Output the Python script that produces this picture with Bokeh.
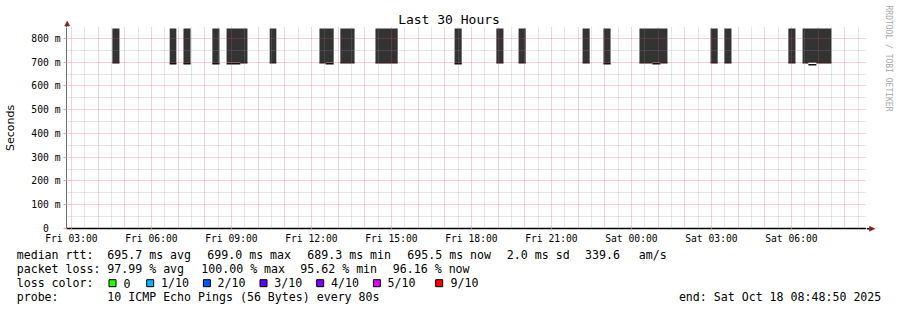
import pandas as pd
from math import pi
from bokeh.plotting import figure
from bokeh.layouts import column, row
from bokeh.models import Range1d, FixedTicker, ColumnDataSource
from bokeh.core.properties import value
from bokeh.embed import file_html
from bokeh.resources import INLINE

# ---------------- data ----------------
chart_title = "Last 30 Hours"
y_axis_title = "Seconds"
watermark = "RRDTOOL / TOBI OETIKER"
graph_start = "2025-10-17 02:48:50"
graph_end = "2025-10-18 08:48:50"
smoke_top_ms = 842.0

step_start = [
    "2025-10-17 04:32", "2025-10-17 06:41", "2025-10-17 07:12", "2025-10-17 08:17",
    "2025-10-17 08:49", "2025-10-17 09:20", "2025-10-17 10:26", "2025-10-17 12:18",
    "2025-10-17 12:32", "2025-10-17 13:05", "2025-10-17 14:24", "2025-10-17 17:22",
    "2025-10-17 18:56", "2025-10-17 19:46", "2025-10-17 22:10", "2025-10-17 22:57",
    "2025-10-18 00:18", "2025-10-18 00:47", "2025-10-18 01:05", "2025-10-18 02:58",
    "2025-10-18 03:29", "2025-10-18 05:53", "2025-10-18 06:25", "2025-10-18 06:38",
    "2025-10-18 06:56",
]
step_end = [
    "2025-10-17 04:48", "2025-10-17 06:56", "2025-10-17 07:28", "2025-10-17 08:33",
    "2025-10-17 09:20", "2025-10-17 09:36", "2025-10-17 10:41", "2025-10-17 12:32",
    "2025-10-17 12:50", "2025-10-17 13:37", "2025-10-17 15:14", "2025-10-17 17:38",
    "2025-10-17 19:12", "2025-10-17 20:02", "2025-10-17 22:26", "2025-10-17 23:13",
    "2025-10-18 00:47", "2025-10-18 01:05", "2025-10-18 01:21", "2025-10-18 03:14",
    "2025-10-18 03:45", "2025-10-18 06:09", "2025-10-18 06:38", "2025-10-18 06:56",
    "2025-10-18 07:30",
]
median_ms = [
    698, 694, 694, 694,
    694, 698, 698, 698,
    694, 698, 698, 694,
    698, 698, 698, 694,
    698, 694, 698, 698,
    698, 698, 698, 689.5,
    698,
]

y_tick_values = [0, 100, 200, 300, 400, 500, 600, 700, 800]
y_tick_labels = ["0\u00a0\u00a0", "100 m", "200 m", "300 m", "400 m",
                 "500 m", "600 m", "700 m", "800 m"]
y_minor_values = [50, 150, 250, 350, 450, 550, 650, 750]

x_tick_times = ["2025-10-17 03:00", "2025-10-17 06:00", "2025-10-17 09:00",
                "2025-10-17 12:00", "2025-10-17 15:00", "2025-10-17 18:00",
                "2025-10-17 21:00", "2025-10-18 00:00", "2025-10-18 03:00",
                "2025-10-18 06:00"]
x_tick_labels = ["Fri 03:00", "Fri 06:00", "Fri 09:00", "Fri 12:00", "Fri 15:00",
                 "Fri 18:00", "Fri 21:00", "Sat 00:00", "Sat 03:00", "Sat 06:00"]

rtt_stat_names = ["avg", "max", "min", "now"]
rtt_stat_values = [695.7, 699.0, 689.3, 695.5]
rtt_sd = 2.0
rtt_am_s = 339.6
loss_stat_names = ["avg", "max", "min", "now"]
loss_stat_values = [97.99, 100.00, 95.62, 96.16]
loss_color_labels = ["0", "1/10", "2/10", "3/10", "4/10", "5/10", "9/10"]
loss_color_values = ["#26ff00", "#00b8ff", "#0059ff", "#5e00ff", "#7e00ff", "#dd00ff", "#ff0000"]
probe_text = "10 ICMP Echo Pings (56 Bytes) every 80s"
end_text = "end: Sat Oct 18 08:48:50 2025"

# ---------------- layout / style ----------------
CANVAS_W, CANVAS_H = 897, 310
FRAME_L, FRAME_R, FRAME_T, FRAME_B = 66, 866, 27, 228
SMOKE_TOP_PX = 28
MAIN_BOTTOM = 248
MONO = "DejaVu Sans Mono"
LEG_SIZE = "11.6px"
BAR_COLOR = "#333333"
LINE_COLOR = "#111111"
ARROW_COLOR = "#7f1f1f"
AXIS_GRAY = "#707070"


def ms(t):
    return pd.Timestamp(t).value / 1e6


y_top = smoke_top_ms * (FRAME_B - FRAME_T) / (FRAME_B - SMOKE_TOP_PX)

# merge contiguous steps into smoke blocks
starts = pd.to_datetime(step_start)
ends = pd.to_datetime(step_end)
blocks = []
for s, e, m in zip(starts, ends, median_ms):
    if blocks and blocks[-1][1] == s:
        blocks[-1][1] = e
        blocks[-1][2] = max(blocks[-1][2], m)
    else:
        blocks.append([s, e, m])
block_src = ColumnDataSource(dict(
    left=[b[0] for b in blocks], right=[b[1] for b in blocks],
    bottom=[b[2] for b in blocks], top=[smoke_top_ms] * len(blocks)))
step_src = ColumnDataSource(dict(x0=starts, x1=ends, y=median_ms))


def pixel_fig(w, h, x0, y0):
    f = figure(width=w, height=h, x_range=Range1d(x0, x0 + w), y_range=Range1d(y0 + h, y0),
               min_border=0, toolbar_location=None, tools="", output_backend="svg",
               x_axis_location=None, y_axis_location=None, outline_line_color=None,
               background_fill_color="white", border_fill_color="white")
    f.grid.visible = False
    return f


# ---------------- main plot ----------------
p = figure(width=FRAME_R, height=MAIN_BOTTOM - FRAME_T, x_axis_type="datetime",
           x_range=Range1d(ms(graph_start), ms(graph_end)), y_range=Range1d(0, y_top),
           min_border_left=FRAME_L, min_border_right=0, min_border_top=0,
           min_border_bottom=MAIN_BOTTOM - FRAME_B,
           toolbar_location=None, tools="", output_backend="svg", outline_line_color=None,
           background_fill_color="white", border_fill_color="white")

p.quad(left="left", right="right", bottom="bottom", top="top", source=block_src,
       fill_color=BAR_COLOR, line_color=None)
p.segment(x0="x0", x1="x1", y0="y", y1="y", source=step_src,
          line_color=LINE_COLOR, line_width=1.5)

# axes
p.yaxis.ticker = FixedTicker(ticks=y_tick_values, minor_ticks=y_minor_values)
p.yaxis.major_label_overrides = dict(zip(y_tick_values, y_tick_labels))
p.yaxis.major_label_text_font = MONO
p.yaxis.major_label_text_font_size = "9.7px"
p.yaxis.major_label_text_color = "black"
p.yaxis.major_label_standoff = 3
p.yaxis.major_tick_out = 3
p.yaxis.major_tick_in = 0
p.yaxis.major_tick_line_color = "#e8a0a0"
p.yaxis.minor_tick_out = 0
p.yaxis.minor_tick_in = 0
p.yaxis.axis_line_color = AXIS_GRAY
p.yaxis.axis_label = y_axis_title
p.yaxis.axis_label_text_font = "DejaVu Sans"
p.yaxis.axis_label_text_font_size = "11px"
p.yaxis.axis_label_text_font_style = "normal"
p.yaxis.axis_label_text_color = "black"
p.yaxis.axis_label_standoff = 11

x_tick_ms = [int(ms(t)) for t in x_tick_times]
p.xaxis.ticker = FixedTicker(ticks=x_tick_ms)
p.xaxis.major_label_overrides = dict(zip(x_tick_ms, x_tick_labels))
p.xaxis.major_label_text_font = MONO
p.xaxis.major_label_text_font_size = "9.7px"
p.xaxis.major_label_text_color = "black"
p.xaxis.major_label_standoff = 2
p.xaxis.major_tick_out = 2
p.xaxis.major_tick_in = 0
p.xaxis.major_tick_line_color = "#e8a0a0"
p.xaxis.minor_tick_out = 0
p.xaxis.minor_tick_in = 0
p.xaxis.axis_line_color = "black"
p.xaxis.axis_line_width = 1.5

# grid drawn on top of the smoke, as rrdtool does
hour_grid = [ms(t) for t in pd.date_range("2025-10-17 03:00", "2025-10-18 08:00", freq="h")]
half_grid = [ms(t) for t in pd.date_range("2025-10-17 03:30", "2025-10-18 08:30", freq="h")]
p.xgrid.ticker = FixedTicker(ticks=hour_grid, minor_ticks=half_grid)
for g in (p.xgrid[0], p.ygrid[0]):
    g.level = "overlay"
    g.grid_line_color = "#de4f4f"
    g.grid_line_alpha = 0.5
    g.grid_line_dash = "1 1"
    g.minor_grid_line_color = "#8f8f8f"
    g.minor_grid_line_alpha = 0.45
    g.minor_grid_line_dash = "1 1"

# ---------------- header (title, y arrow) ----------------
head = pixel_fig(FRAME_R, FRAME_T, 0, 0)
head.text(x=[CANVAS_W / 2], y=[19], text=[chart_title], text_font=value(MONO),
          text_font_size="13px", text_align="center", text_baseline="middle",
          text_color="black")
head.segment(x0=[FRAME_L], x1=[FRAME_L], y0=[24], y1=[FRAME_T], line_color=AXIS_GRAY, line_width=1)
head.patch(x=[64.2, 69.2, 66.7], y=[25.6, 25.6, 20.6], fill_color=ARROW_COLOR,
           line_color=ARROW_COLOR, line_width=0.5)

# ---------------- right strip (watermark, x arrow) ----------------
side = pixel_fig(CANVAS_W - FRAME_R, MAIN_BOTTOM, FRAME_R, 0)
side.text(x=[887.5], y=[5], text=[watermark], text_font=value(MONO),
          text_font_size="8px", text_align="left", text_baseline="middle",
          text_color="#a8a8a8", angle=-pi / 2)
side.segment(x0=[FRAME_R], x1=[870], y0=[228.3], y1=[228.3], line_color="black", line_width=1.5)
side.patch(x=[869.0, 869.0, 874.4], y=[225.8, 230.8, 228.3], fill_color=ARROW_COLOR,
           line_color=ARROW_COLOR, line_width=0.5)

# ---------------- legend ----------------
leg = pixel_fig(CANVAS_W, CANVAS_H - MAIN_BOTTOM, 0, MAIN_BOTTOM)
row_mid = [254.3, 268.3, 282.7, 296.2]
label_x = 16.2


def leg_text(x, y, s, align="left"):
    leg.text(x=[x], y=[y], text=[s], text_font=value(MONO), text_font_size=LEG_SIZE,
             text_align=align, text_baseline="middle", text_color="black")


# row 1: median rtt
leg_text(label_x, row_mid[0], "median rtt:")
rtt_x = [106.8, 206.8, 306.8, 406.8]
for x, v, n in zip(rtt_x, rtt_stat_values, rtt_stat_names):
    leg_text(x, row_mid[0], f"{v:.1f} ms {n}")
leg_text(506.3, row_mid[0], f"{rtt_sd:.1f} ms sd")
leg_text(584.5, row_mid[0], f"{rtt_am_s:.1f}")
leg_text(638.3, row_mid[0], "am/s")

# row 2: packet loss
leg_text(label_x, row_mid[1], "packet loss:")
loss_x = [106.8, 200.8, 299.8, 392.3]
for x, v, n in zip(loss_x, loss_stat_values, loss_stat_names):
    leg_text(x, row_mid[1], f"{v:.2f} % {n}")

# row 3: loss colours
leg_text(label_x, row_mid[2], "loss color:")
box_left = [108.0, 145.7, 202.4, 259.0, 315.7, 372.4, 434.7]
box_text_x = [123.0, 160.5, 217.0, 273.7, 330.5, 387.0, 450.0]
leg.quad(left=[b + 0.5 for b in box_left], right=[b + 7.5 for b in box_left],
         top=[279.2] * len(box_left), bottom=[286.2] * len(box_left),
         fill_color=loss_color_values, line_color="black", line_width=1)
for x, s in zip(box_text_x, loss_color_labels):
    leg_text(x, row_mid[2], s)

# row 4: probe / end
leg_text(label_x, row_mid[3], "probe:")
leg_text(106.8, row_mid[3], probe_text)
leg_text(880.8, row_mid[3], end_text, align="right")

layout = column(row(column(head, column(p)), side), leg)
open("out.html", "w").write(file_html(layout, INLINE))
